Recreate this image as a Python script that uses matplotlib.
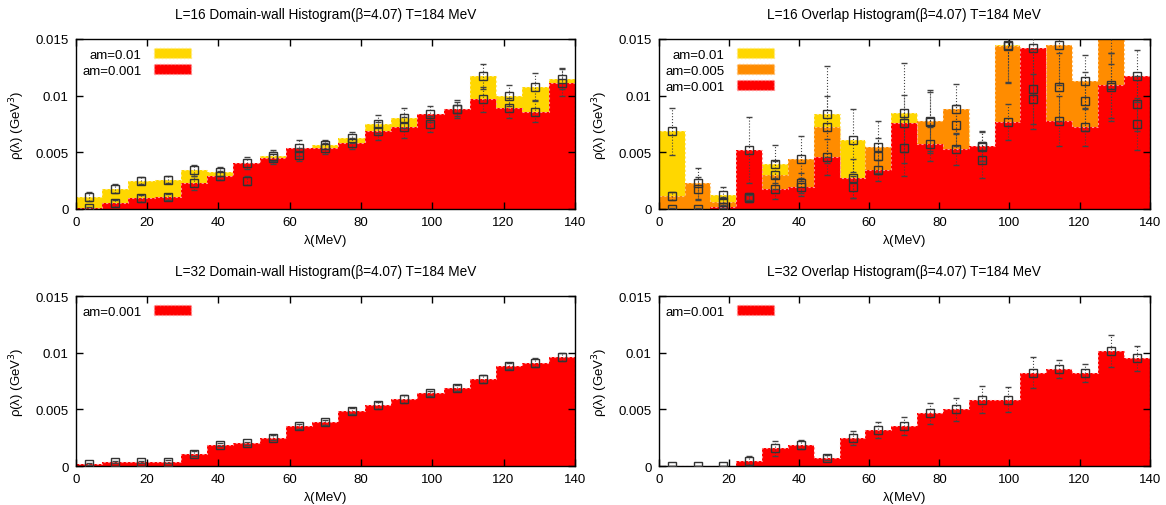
import numpy as np
import matplotlib
matplotlib.use('Agg')
from matplotlib import pyplot as plt
from matplotlib.patches import Patch

plt.rcParams['font.family'] = ['Liberation Sans', 'DejaVu Sans']
plt.rcParams['font.size'] = 9.5

# histogram bins in lambda (MeV)
n_bins = 19
lam_max = 140.0

# L=16 domain-wall, values in units of 1e-3 GeV^3
dw16_am01 = [1.1, 1.8, 2.5, 2.6, 3.4, 3.3, 2.5, 4.7, 4.8, 5.65, 6.3, 7.5, 8.05, 7.5, 8.8, 11.7, 10.0, 10.8, 11.5]
dw16_am01_err = [0.4, 0.4, 0.3, 0.3, 0.5, 0.4, 0.4, 0.5, 0.6, 0.4, 0.5, 0.8, 0.9, 0.7, 0.6, 1.1, 0.9, 1.2, 0.9]
dw16_am001 = [0.05, 0.5, 0.95, 1.05, 2.3, 2.95, 4.05, 4.5, 5.35, 5.35, 5.8, 6.85, 7.2, 8.4, 8.85, 9.7, 8.9, 8.6, 11.15]
dw16_am001_err = [0.1, 0.3, 0.3, 0.3, 0.6, 0.4, 0.5, 0.5, 0.7, 0.5, 0.5, 0.8, 0.9, 0.7, 0.8, 1.1, 0.9, 0.9, 1.2]

# L=16 overlap
ov16_am01 = [6.85, 1.8, 1.25, 1.1, 3.95, 2.3, 8.35, 6.05, 4.65, 8.45, 7.7, 7.4, 5.5, 14.5, 10.6, 10.8, 9.5, 10.8, 9.3]
ov16_am01_err = [2.1, 1.0, 0.7, 0.3, 1.7, 0.9, 4.3, 2.8, 1.6, 4.4, 2.8, 1.8, 1.3, 3.3, 3.5, 3.0, 2.6, 3.0, 2.4]
ov16_am005 = [1.15, 2.25, 0.6, 0.95, 3.0, 4.45, 7.25, 1.95, 5.5, 5.4, 7.75, 8.85, 4.3, 14.4, 9.7, 14.45, 11.25, 15.8, 7.5]
ov16_am005_err = [0.35, 1.4, 0.5, 0.3, 1.2, 2.0, 2.7, 1.0, 2.3, 2.5, 2.6, 2.2, 1.6, 3.3, 2.2, 3.5, 2.3, 3.0, 2.3]
ov16_am001 = [0.0, 0.0, 0.15, 5.2, 1.8, 1.95, 4.6, 2.7, 3.4, 7.55, 5.75, 5.3, 5.55, 7.7, 14.2, 7.8, 7.2, 10.9, 11.7]
ov16_am001_err = [0.05, 0.05, 0.2, 2.9, 0.9, 0.8, 1.6, 1.7, 0.9, 2.5, 1.5, 1.4, 1.3, 1.6, 4.0, 2.2, 1.6, 2.9, 2.3]

# L=32 domain-wall
dw32_am001 = [0.15, 0.35, 0.35, 0.4, 1.1, 1.9, 2.0, 2.5, 3.5, 3.85, 4.85, 5.35, 5.95, 6.4, 6.9, 7.65, 8.8, 9.1, 9.6]
dw32_am001_err = [0.1, 0.1, 0.1, 0.1, 0.2, 0.15, 0.15, 0.2, 0.25, 0.25, 0.25, 0.3, 0.35, 0.25, 0.25, 0.35, 0.25, 0.4, 0.35]

# L=32 overlap
ov32_am001 = [0.0, 0.0, 0.0, 0.45, 1.55, 1.9, 0.75, 2.5, 3.2, 3.55, 4.65, 5.0, 5.85, 5.85, 8.25, 8.55, 8.2, 10.15, 9.5]
ov32_am001_err = [0.02, 0.02, 0.02, 0.4, 0.65, 0.4, 0.2, 0.6, 0.7, 0.8, 0.9, 1.0, 1.2, 1.1, 1.4, 0.8, 0.8, 1.4, 1.1]

styles = {
    'am=0.01': ('#ffd700', '#ffe97a'),
    'am=0.005': ('#ff8c00', '#ffc070'),
    'am=0.001': ('#ff0000', '#ff9090'),
}

edges = np.linspace(0, lam_max, n_bins + 1)
centers = 0.5 * (edges[:-1] + edges[1:])


def draw_panel(ax, title, series):
    handles = []
    # filled histograms first, later series painted over earlier ones
    for i, (label, vals, errs) in enumerate(series):
        fc, ec = styles[label]
        v = np.array(vals) * 1e-3
        ax.stairs(v, edges, fill=True, color=fc, zorder=1 + 0.1 * i)
        ax.stairs(v, edges, color=ec, linestyle=(0, (2, 2)), linewidth=0.8, zorder=1.05 + 0.1 * i)
        handles.append(Patch(facecolor=fc, edgecolor=ec, linestyle=':', label=label))
    for label, vals, errs in series:
        v = np.array(vals) * 1e-3
        e = np.array(errs) * 1e-3
        line, caps, bars = ax.errorbar(centers, v, yerr=e, fmt='s', mfc='none', mec='#333333',
                                       ms=6, mew=1.0, ecolor='#444444', elinewidth=0.8,
                                       capsize=2.5, capthick=0.8, zorder=3)
        for b in bars:
            b.set_linestyle(':')
        for c in caps:
            c.set_color('#999999')
    ax.set_xlim(0, lam_max)
    ax.set_ylim(0, 0.015)
    ax.set_xticks(np.arange(0, 141, 20))
    ax.set_yticks([0, 0.005, 0.01, 0.015])
    ax.set_yticklabels(['0', '0.005', '0.01', '0.015'])
    ax.tick_params(direction='in', top=True, right=True, length=5, width=1, pad=5)
    for s in ax.spines.values():
        s.set_linewidth(1.0)
    ax.set_title(title, fontsize=9.8, pad=15)
    ax.set_xlabel(r'$\mathregular{\lambda}$(MeV)', labelpad=3)
    ax.set_ylabel(r'ρ(λ) (GeV$^3$)', labelpad=6)
    leg = ax.legend(handles=handles, loc='upper left', frameon=False, markerfirst=False,
                    handlelength=2.8, handleheight=0.8, borderaxespad=0.3,
                    labelspacing=0.25, handletextpad=0.9, fontsize=9.5,
                    bbox_to_anchor=(-0.005, 1.0))
    for t in leg.get_texts():
        t.set_ha('right')
    return ax


fig = plt.figure(figsize=(11.66, 5.06), dpi=100)
ax1 = fig.add_axes([0.065, 0.585, 0.428, 0.336])
ax2 = fig.add_axes([0.565, 0.585, 0.421, 0.336])
ax3 = fig.add_axes([0.065, 0.077, 0.428, 0.336])
ax4 = fig.add_axes([0.565, 0.077, 0.421, 0.336])

draw_panel(ax1, 'L=16 Domain-wall Histogram(β=4.07) T=184 MeV',
           [('am=0.01', dw16_am01, dw16_am01_err),
            ('am=0.001', dw16_am001, dw16_am001_err)])
draw_panel(ax2, 'L=16 Overlap Histogram(β=4.07) T=184 MeV',
           [('am=0.01', ov16_am01, ov16_am01_err),
            ('am=0.005', ov16_am005, ov16_am005_err),
            ('am=0.001', ov16_am001, ov16_am001_err)])
draw_panel(ax3, 'L=32 Domain-wall Histogram(β=4.07) T=184 MeV',
           [('am=0.001', dw32_am001, dw32_am001_err)])
draw_panel(ax4, 'L=32 Overlap Histogram(β=4.07) T=184 MeV',
           [('am=0.001', ov32_am001, ov32_am001_err)])

fig.savefig('out.png', dpi=100)
